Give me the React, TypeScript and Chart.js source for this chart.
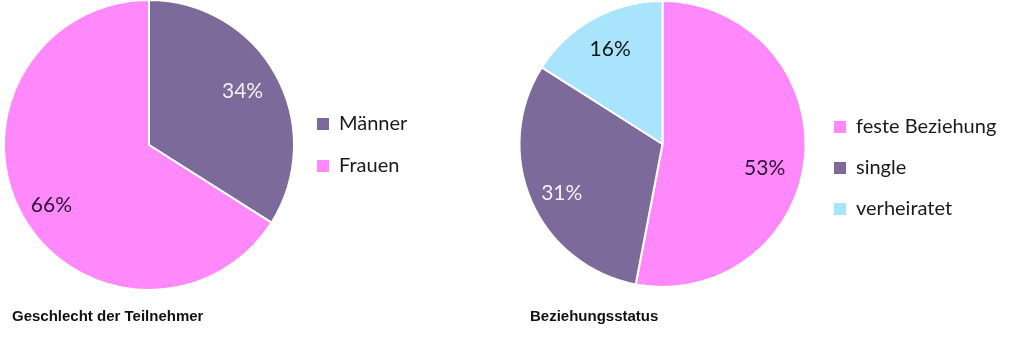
import React, { useEffect, useRef } from 'react';
import { Chart, registerables } from 'chart.js';

Chart.register(...registerables);

// ---- data ----
const genderLabels = ['Männer', 'Frauen'];
const genderValues = [34, 66];
const genderColors = ['#7b6a9a', '#ff88fa'];
const genderValueColors = ['#f4f0f8', '#2e1236'];
const genderCaption = 'Geschlecht der Teilnehmer';

const statusLabels = ['feste Beziehung', 'single', 'verheiratet'];
const statusValues = [53, 31, 16];
const statusColors = ['#ff88fa', '#7b6a9a', '#a8e4fb'];
const statusValueColors = ['#2e1236', '#f4f0f8', '#151515'];
const statusCaption = 'Beziehungsstatus';

const LEGEND_FAMILY = 'Lato';
const LEGEND_SIZE = 20;
const BOX = 12;

type PieCfg = {
  labels: string[];
  values: number[];
  colors: string[];
  valueColors: string[];
  valueNudge: [number, number][];
  caption: string;
  pageX: number;
  width: number;
  radius: number;
  centerX: number; // relative to canvas
  boxX: number; // legend box x relative to canvas
  legendPad: number;
  legendAlign: 'center' | 'end';
  padTop: number;
  padBottom: number;
  captionX: number;
  captionY: number;
};

function makeLabelPlugin(cfg: PieCfg) {
  return {
    id: 'sliceLabels',
    afterDatasetsDraw(chart: any) {
      const ctx = chart.ctx;
      const meta = chart.getDatasetMeta(0);
      ctx.save();
      ctx.font = '21px Lato';
      ctx.textAlign = 'center';
      ctx.textBaseline = 'middle';
      meta.data.forEach((arc: any, i: number) => {
        const p = arc.getProps(['x', 'y', 'startAngle', 'endAngle', 'outerRadius'], true);
        const mid = (p.startAngle + p.endAngle) / 2;
        const r = p.outerRadius * 0.76;
        const [nx, ny] = cfg.valueNudge[i];
        ctx.fillStyle = cfg.valueColors[i];
        ctx.fillText(cfg.values[i] + '%', p.x + Math.cos(mid) * r + nx, p.y + Math.sin(mid) * r + ny);
      });
      ctx.font = 'bold 15px "Liberation Sans", Arial, sans-serif';
      ctx.textAlign = 'left';
      ctx.textBaseline = 'alphabetic';
      ctx.fillStyle = '#111111';
      ctx.fillText(cfg.caption, cfg.captionX, cfg.captionY);
      ctx.restore();
    },
  };
}

function PieChart({ cfg }: { cfg: PieCfg }) {
  const ref = useRef<HTMLCanvasElement>(null);
  useEffect(() => {
    const canvas = ref.current!;
    const m = document.createElement('canvas').getContext('2d')!;
    m.font = `normal ${LEGEND_SIZE}px ${LEGEND_FAMILY}`;
    const textW = Math.max(...cfg.labels.map((l) => m.measureText(l).width));
    const legendW = cfg.legendPad + BOX + LEGEND_SIZE / 2 + textW + 10;
    const legendLeft = cfg.boxX - cfg.legendPad;
    const padLeft = Math.max(0, 2 * cfg.centerX - legendLeft);
    const padRight = cfg.width - legendLeft - legendW;

    const chart = new Chart(canvas, {
      type: 'pie',
      data: {
        labels: cfg.labels,
        datasets: [
          {
            data: cfg.values,
            backgroundColor: cfg.colors,
            borderColor: '#ffffff',
            borderWidth: 2,
            radius: cfg.radius,
          } as any,
        ],
      },
      options: {
        responsive: false,
        animation: false,
        devicePixelRatio: 1,
        layout: {
          padding: { left: padLeft, right: padRight, top: cfg.padTop, bottom: cfg.padBottom },
        },
        plugins: {
          tooltip: { enabled: false },
          legend: {
            display: true,
            position: 'right',
            align: cfg.legendAlign,
            labels: {
              boxWidth: BOX,
              boxHeight: BOX,
              padding: cfg.legendPad,
              color: '#1a1a1a',
              font: { family: LEGEND_FAMILY, size: LEGEND_SIZE },
              generateLabels: (c: any) =>
                (Chart as any).overrides.pie.plugins.legend.labels
                  .generateLabels(c)
                  .map((it: any) => ({ ...it, lineWidth: 0, strokeStyle: 'rgba(0,0,0,0)' })),
            },
          },
        },
      } as any,
      plugins: [makeLabelPlugin(cfg)],
    });
    return () => chart.destroy();
  }, [cfg]);
  return (
    <canvas
      ref={ref}
      width={cfg.width}
      height={350}
      style={{ position: 'absolute', left: cfg.pageX, top: 0, width: cfg.width, height: 350, display: 'block' }}
    />
  );
}

const leftCfg: PieCfg = {
  labels: genderLabels,
  values: genderValues,
  colors: genderColors,
  valueColors: genderValueColors,
  valueNudge: [[-3, -1], [-1, 7]],
  caption: genderCaption,
  pageX: 0,
  width: 512,
  radius: 145,
  centerX: 149,
  boxX: 317,
  legendPad: 22,
  legendAlign: 'center',
  padTop: 0,
  padBottom: 60,
  captionX: 12,
  captionY: 321,
};

const rightCfg: PieCfg = {
  labels: statusLabels,
  values: statusValues,
  colors: statusColors,
  valueColors: statusValueColors,
  valueNudge: [[-6, 14], [-1, 6], [0, 0]],
  caption: statusCaption,
  pageX: 512,
  width: 512,
  radius: 143,
  centerX: 150.5,
  boxX: 322,
  legendPad: 21,
  legendAlign: 'end',
  padTop: 48,
  padBottom: 110,
  captionX: 18,
  captionY: 321,
};

export default function App() {
  return (
    <div style={{ position: 'absolute', left: 0, top: 0, width: 1024, height: 350, background: '#ffffff' }}>
      <PieChart cfg={leftCfg} />
      <PieChart cfg={rightCfg} />
    </div>
  );
}
